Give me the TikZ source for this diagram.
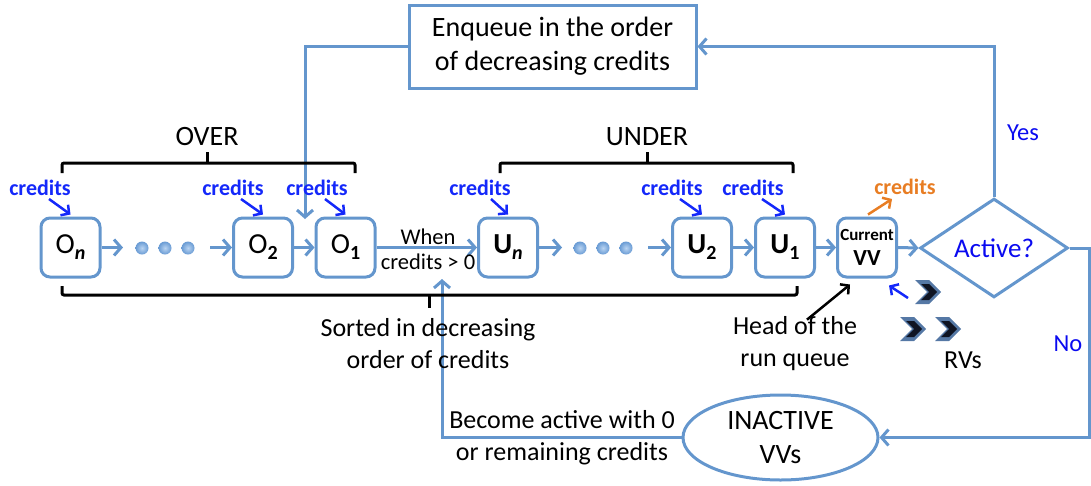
\documentclass[tikz,border=0pt]{standalone}
\usepackage{fontspec}
\setmainfont{Carlito}
\usetikzlibrary{arrows.meta,shapes.geometric}
\definecolor{boxblue}{RGB}{100,150,205}
\definecolor{credblue}{RGB}{20,40,250}
\definecolor{txtblue}{RGB}{10,10,240}
\definecolor{corange}{RGB}{232,125,35}
\definecolor{chevdark}{RGB}{15,20,35}
\definecolor{chevedge}{RGB}{85,120,165}
\newcommand{\sub}[1]{\raisebox{-6pt}{\fontsize{20}{20}\selectfont\bfseries #1}}
\begin{document}
\begin{tikzpicture}[x=1pt,y=-1pt,
  box/.style={draw=boxblue, line width=3pt, rounded corners=9pt, minimum width=59pt, minimum height=59pt, inner sep=0pt},
  obox/.style={box, font=\fontsize{29}{32}\selectfont},
  ubox/.style={box, font=\bfseries\fontsize{29}{32}\selectfont},
  flow/.style={draw=boxblue, line width=3pt, -{Straight Barb[length=7pt,width=16pt]}},
  cred/.style={text=credblue, font=\bfseries\fontsize{22}{24}\selectfont, inner sep=0pt},
  carrow/.style={draw=credblue, line width=2.5pt, -{Straight Barb[length=6pt,width=13pt]}},
  bracket/.style={draw=black, line width=3pt, rounded corners=2pt},
  lbl/.style={font=\fontsize{26}{32}\selectfont, align=center, inner sep=0pt},
  big/.style={font=\fontsize{28}{34}\selectfont, align=center, inner sep=0pt},
  dot/.style={circle, inner sep=0pt, minimum size=13pt, shade, inner color={rgb,255:red,185;green,212;blue,242}, outer color={rgb,255:red,105;green,155;blue,212}},
  chev/.pic={
    \fill[chevedge] (-13,-12) -- (1,-12) -- (13,0) -- (1,12) -- (-13,12) -- (-1,0) -- cycle;
    \fill[chevdark] (-7,-8) -- (1,-8) -- (9,0) -- (1,8) -- (-7,8) -- (1,0) -- cycle;},
]
\useasboundingbox (0,0) rectangle (1091,485);

% top box
\node[draw=boxblue, line width=3pt, minimum width=287pt, minimum height=83pt, big] (enq) at (552.5,46.5)
  {Enqueue in the order\\of decreasing credits};

% queue boxes
\node[obox] (On) at (70.5,247.5) {O\sub{\itshape n}};
\node[dot] (d1) at (142,248) {};
\node[dot] (d2) at (165,248) {};
\node[dot] (d3) at (188,248) {};
\node[obox] (O2) at (263,247.5) {O\sub{2}};
\node[obox] (O1) at (345.5,247.5) {O\sub{1}};
\node[ubox] (Un) at (508,247.5) {U\sub{\itshape n}};
\node[dot] (e1) at (580,248) {};
\node[dot] (e2) at (603,248) {};
\node[dot] (e3) at (626,248) {};
\node[ubox] (U2) at (702,247.5) {U\sub{2}};
\node[ubox] (U1) at (785,247.5) {U\sub{1}};
\node[box, align=center, font=\bfseries\fontsize{23}{25}\selectfont] (cur) at (867,247.5)
  {{\fontsize{17}{18}\selectfont Current}\\VV};

\node[diamond, draw=boxblue, line width=3pt, minimum width=148pt, minimum height=80pt, inner sep=0pt,
  text=txtblue, font=\fontsize{27}{30}\selectfont] (act) at (994,248) {Active?};

\node[ellipse, draw=boxblue, line width=3pt, minimum width=195pt, minimum height=85pt, inner sep=0pt, big] (ell)
  at (780.5,437.5) {INACTIVE\\VVs};

% coordinates
\coordinate (a1) at (123,247.5);
\coordinate (a2) at (210,247.5);
\coordinate (b1) at (562,247.5);
\coordinate (b2) at (648,247.5);
\coordinate (enqdown) at (305,219);
\coordinate (rightedge) at (1089,248);
\coordinate (upin) at (442,279);

% flow arrows
\draw[flow] (On.east) -- (a1);
\draw[flow] (a2) -- (O2.west);
\draw[flow] (O2.east) -- (O1.west);
\draw[flow] (O1.east) -- (Un.west);
\draw[flow] (Un.east) -- (b1);
\draw[flow] (b2) -- (U2.west);
\draw[flow] (U2.east) -- (U1.west);
\draw[flow] (U1.east) -- (cur.west);
\draw[flow] (cur.east) -- (act.west);
\draw[flow] (act.north) |- (enq.east);
\draw[flow] (enq.west) -| (enqdown);
\draw[flow] (act.east) -- (rightedge) |- (ell.east);
\draw[flow] (ell.west) -| (upin);

% brackets
\draw[bracket] (62,173) -- (62,163) -- (355,163) -- (355,173);
\draw[bracket] (207,163) -- (207,152);
\draw[bracket] (500,173) -- (500,163) -- (793,163) -- (793,173);
\draw[bracket] (647,163) -- (647,152);
\draw[bracket] (62,286) -- (62,295) -- (797,295) -- (797,286);
\draw[bracket] (429,295) -- (429,308);

\node[big] (over) at (207,137) {OVER};
\node[big] (under) at (647,137) {UNDER};

% credits
\node[cred] (c1) at (40,188) {credits};
\node[cred] (c2) at (233,188) {credits};
\node[cred] (c3) at (317,188) {credits};
\node[cred] (c4) at (480,188) {credits};
\node[cred] (c5) at (672,188) {credits};
\node[cred] (c6) at (753,188) {credits};
\draw[carrow] ([xshift=9pt,yshift=-3pt]c1.south) -- ([yshift=2pt]On.north);
\draw[carrow] ([xshift=8pt,yshift=-3pt]c2.south) -- ([yshift=2pt]O2.north);
\draw[carrow] ([xshift=8pt,yshift=-3pt]c3.south) -- ([yshift=2pt]O1.north);
\draw[carrow] ([xshift=11pt,yshift=-3pt]c4.south) -- ([yshift=2pt]Un.north);
\draw[carrow] ([xshift=8pt,yshift=-3pt]c5.south) -- ([yshift=2pt]U2.north);
\draw[carrow] ([xshift=9pt,yshift=-3pt]c6.south) -- ([yshift=2pt]U1.north);

\node[text=corange, font=\bfseries\fontsize{22}{24}\selectfont, inner sep=0pt] (oc) at (905,187) {credits};
\draw[draw=corange, line width=2.5pt, -{Straight Barb[length=6pt,width=13pt]}]
  ([xshift=1pt,yshift=2pt]cur.north) -- ([xshift=-13pt,yshift=-4pt]oc.south);

% labels
\node[font=\fontsize{22.5}{25}\selectfont, inner sep=0pt] (when) at (428,237) {When};
\node[font=\fontsize{22.5}{25}\selectfont, inner sep=0pt] (cgt) at (428,262) {credits > 0};
\node[lbl] (sorted) at (428,344) {Sorted in decreasing\\order of credits};
\node[lbl] (head) at (795,344) {Head of the\\run queue};
\node[lbl] (rvs) at (963,360) {RVs};
\node[lbl] (become) at (562,438) {Become active with 0\\or remaining credits};
\node[font=\fontsize{24.5}{28}\selectfont, text=txtblue, inner sep=0pt] (yes) at (1023,133) {Yes};
\node[font=\fontsize{24.5}{28}\selectfont, text=txtblue, inner sep=0pt] (no) at (1068,344) {No};

\draw[line width=2.5pt, -{Straight Barb[length=6pt,width=13pt]}]
  ([xshift=12pt,yshift=-3pt]head.north) -- ([xshift=-17pt,yshift=-6pt]cur.south);

% RV chevrons
\pic at (928,292) {chev};
\pic at (913,329) {chev};
\pic at (948,329) {chev};
\coordinate (rvarr) at (908,298);
\draw[carrow] (rvarr) -- ([xshift=-9pt,yshift=-7pt]cur.south east);
\end{tikzpicture}
\end{document}
